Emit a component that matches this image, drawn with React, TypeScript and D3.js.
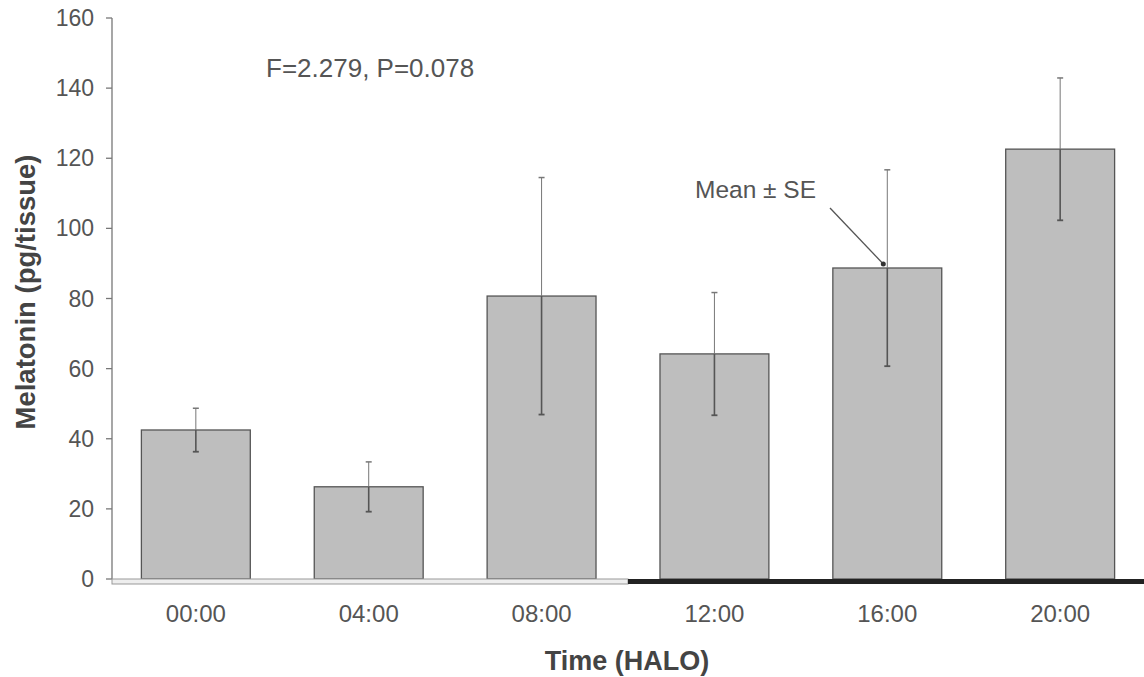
import React, { useEffect } from "react";
import * as d3 from "d3";

const categories = ["00:00", "04:00", "08:00", "12:00", "16:00", "20:00"];
const means = [42.5, 26.3, 80.7, 64.2, 88.7, 122.6];
const ses = [6.2, 7.1, 33.8, 17.5, 28.0, 20.3];
const yTicks = [0, 20, 40, 60, 80, 100, 120, 140, 160];
const statText = "F=2.279, P=0.078";
const annotText = "Mean ± SE";
const yLabel = "Melatonin (pg/tissue)";
const xLabel = "Time (HALO)";

const W = 1144;
const H = 677;
const M = { left: 112, right: 0, top: 18, bottom: 98 };
const FONT = "'Liberation Sans', Arial, sans-serif";

export default function App() {
  useEffect(() => {
    document.body.style.margin = "0";
  }, []);

  const x = d3
    .scaleBand<string>()
    .domain(categories)
    .range([M.left, W - M.right])
    .paddingInner(0.37)
    .paddingOuter(0.17);
  const y = d3.scaleLinear().domain([0, 160]).range([H - M.bottom, M.top]);
  const y0 = y(0);
  const bw = x.bandwidth();
  const splitX = (x("08:00")! + bw + x("12:00")!) / 2;

  const i16 = categories.indexOf("16:00");
  const arrowEnd: [number, number] = [x("16:00")! + bw / 2 - 4, y(means[i16]) - 4];

  return (
    <svg width={W} height={H} style={{ display: "block", background: "#fff" }}>
      {/* bars */}
      {categories.map((c, i) => (
        <rect
          key={c}
          x={x(c)}
          y={y(means[i])}
          width={bw}
          height={y0 - y(means[i])}
          fill="#bebebe"
          stroke="#555"
          strokeWidth={1.3}
        />
      ))}
      {/* error bars */}
      {categories.map((c, i) => {
        const cx = x(c)! + bw / 2;
        const top = y(means[i] + ses[i]);
        const bot = y(means[i] - ses[i]);
        return (
          <g key={"e" + c} stroke="#555">
            <line x1={cx} x2={cx} y1={top} y2={y(means[i])} strokeWidth={1} stroke="#777" />
            <line x1={cx} x2={cx} y1={y(means[i])} y2={bot} strokeWidth={1.6} />
            <line x1={cx - 3} x2={cx + 3} y1={top} y2={top} strokeWidth={1.5} stroke="#777" />
            <line x1={cx - 3} x2={cx + 3} y1={bot} y2={bot} strokeWidth={1.8} />
          </g>
        );
      })}
      {/* y axis */}
      <line x1={M.left} x2={M.left} y1={y(160)} y2={y0} stroke="#777" strokeWidth={1.3} />
      {yTicks.map((t) => (
        <g key={t}>
          <line x1={M.left - 6} x2={M.left} y1={y(t)} y2={y(t)} stroke="#777" strokeWidth={1.3} />
          <text
            x={M.left - 18}
            y={y(t)}
            dy="0.35em"
            textAnchor="end"
            fontFamily={FONT}
            fontSize={23}
            fill="#555"
          >
            {t}
          </text>
        </g>
      ))}
      {/* light / dark bar on x axis */}
      <rect x={M.left} y={y0} width={splitX - M.left} height={5} fill="#eeeeee" stroke="#999" strokeWidth={1} />
      <rect x={splitX} y={y0} width={W - M.right - splitX} height={5} fill="#222" />
      {/* x tick labels */}
      {categories.map((c) => (
        <text
          key={"l" + c}
          x={x(c)! + bw / 2}
          y={614}
          dy="0.35em"
          textAnchor="middle"
          fontFamily={FONT}
          fontSize={24}
          fill="#555"
        >
          {c}
        </text>
      ))}
      {/* axis titles */}
      <text
        x={627}
        y={661}
        dy="0.35em"
        textAnchor="middle"
        fontFamily={FONT}
        fontSize={27}
        fontWeight="bold"
        fill="#444"
      >
        {xLabel}
      </text>
      <text
        transform={`translate(25, 292) rotate(-90)`}
        dy="0.35em"
        textAnchor="middle"
        fontFamily={FONT}
        fontSize={27.5}
        fontWeight="bold"
        fill="#444"
      >
        {yLabel}
      </text>
      {/* annotations */}
      <text x={266} y={68} dy="0.35em" fontFamily={FONT} fontSize={26} fill="#555">
        {statText}
      </text>
      <text x={695} y={189} dy="0.35em" fontFamily={FONT} fontSize={24.5} fill="#555">
        {annotText}
      </text>
      <line x1={830} y1={208} x2={arrowEnd[0]} y2={arrowEnd[1]} stroke="#555" strokeWidth={1.3} />
      <circle cx={arrowEnd[0]} cy={arrowEnd[1]} r={2.5} fill="#333" />
    </svg>
  );
}
